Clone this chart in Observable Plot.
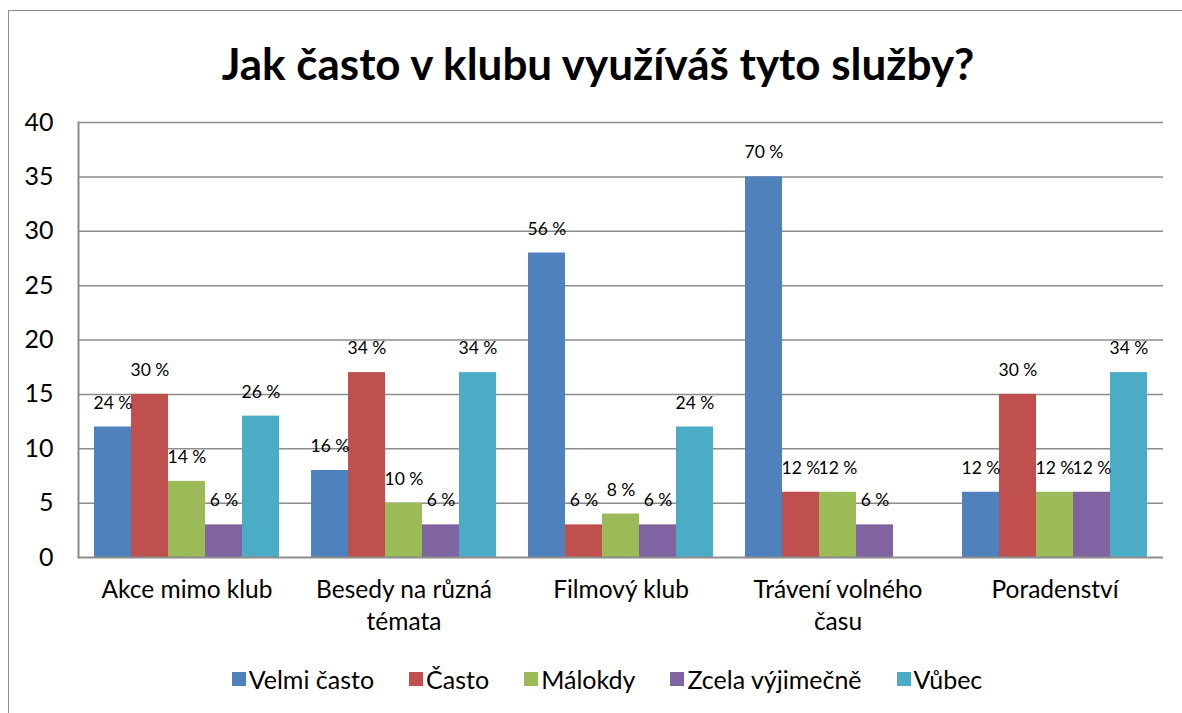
<!DOCTYPE html>
<html><head><meta charset="utf-8">
<script src="https://cdn.jsdelivr.net/npm/d3@7"></script>
<script src="https://cdn.jsdelivr.net/npm/@observablehq/plot@0.6"></script>
<style>
body{margin:0;background:#fff;font-family:Lato,sans-serif;width:1182px;height:713px;overflow:hidden;position:relative;}
#box{position:absolute;left:8px;top:10px;width:1200px;height:720px;border-left:1.5px solid #8c8c8c;border-top:1.5px solid #8c8c8c;}
#title{position:absolute;left:8px;width:1180px;top:41px;text-align:center;font-family:Lato;font-weight:bold;font-size:44px;color:#000;line-height:1;}
#chart{position:absolute;left:0;top:100px;}
#legend{position:absolute;left:0;width:1214px;top:662px;display:flex;justify-content:center;}
.lg-swatches{font-family:Lato !important;font-size:25px !important;color:#000 !important;}
.lg-swatch{margin-right:35px !important;}
.lg-swatch:last-child{margin-right:0 !important;}
.lg-swatch svg{margin-right:3px !important;}
</style>
</head><body>
<div id="box"></div>
<div id="title">Jak často v klubu využíváš tyto služby?</div>
<div id="chart"></div>
<div id="legend"></div>
<script>
const categories = ["Akce mimo klub","Besedy na různá témata","Filmový klub","Trávení volného času","Poradenství"];
const categoryLabels = ["Akce mimo klub","Besedy na různá\ntémata","Filmový klub","Trávení volného\nčasu","Poradenství"];
const series = ["Velmi často","Často","Málokdy","Zcela výjimečně","Vůbec"];
const colors = ["#4F81BD","#C0504D","#9BBB59","#8064A2","#4BACC6"];
const velmiCasto = [12, 8, 28, 35, 6];
const casto = [15, 17, 3, 6, 15];
const malokdy = [7, 5, 4, 6, 6];
const zcelaVyjimecne = [3, 3, 3, 3, 6];
const vubec = [13, 17, 12, null, 17];
const velmiCastoPct = [24, 16, 56, 70, 12];
const castoPct = [30, 34, 6, 12, 30];
const malokdyPct = [14, 10, 8, 12, 12];
const zcelaVyjimecnePct = [6, 6, 6, 6, 12];
const vubecPct = [26, 34, 24, null, 34];
const yTicks = [0, 5, 10, 15, 20, 25, 30, 35, 40];

const values = [velmiCasto, casto, malokdy, zcelaVyjimecne, vubec];
const pcts = [velmiCastoPct, castoPct, malokdyPct, zcelaVyjimecnePct, vubecPct];
const rows = [];
categories.forEach((c, j) => series.forEach((s, i) => {
  if (values[i][j] != null) rows.push({category: c, series: s, value: values[i][j], pct: pcts[i][j]});
}));
const labelOf = new Map(categories.map((c, j) => [c, categoryLabels[j]]));

const chart = Plot.plot({
  width: 1182, height: 545,
  marginLeft: 77, marginRight: 19, marginTop: 22, marginBottom: 88,
  style: {fontFamily: "Lato", fontSize: "25px", color: "#000", background: "transparent", overflow: "visible"},
  fx: {domain: categories, padding: 0, label: null, axis: null},
  x: {domain: series, paddingInner: 0, paddingOuter: 0.373, axis: null},
  y: {domain: [0, 40], ticks: yTicks, tickSize: 0, tickPadding: 25, label: null},
  color: {domain: series, range: colors},
  marks: [
    Plot.ruleY(yTicks.filter(d => d > 0), {stroke: "#8c8c8c", strokeWidth: 1.5}),
    Plot.barY(rows, {fx: "category", x: "series", y: "value", fill: "series"}),
    Plot.text(rows, {fx: "category", x: "series", y: "value", text: d => d.pct + " %", dy: -24, fontSize: 17.5, fill: "#000"}),
    Plot.ruleY([0], {stroke: "#8c8c8c", strokeWidth: 2}),
    Plot.frame({anchor: "left", facet: "super", stroke: "#8c8c8c", strokeWidth: 2}),
    Plot.axisFx({anchor: "bottom", tickSize: 0, tickPadding: 18, lineHeight: 1.3, fontSize: 24.5, tickFormat: d => labelOf.get(d), label: null})
  ]
});
document.getElementById("chart").appendChild(chart);

const legend = Plot.legend({color: {domain: series, range: colors}, legend: "swatches", swatchSize: 14, className: "lg"});
document.getElementById("legend").appendChild(legend);
</script>
</body></html>
